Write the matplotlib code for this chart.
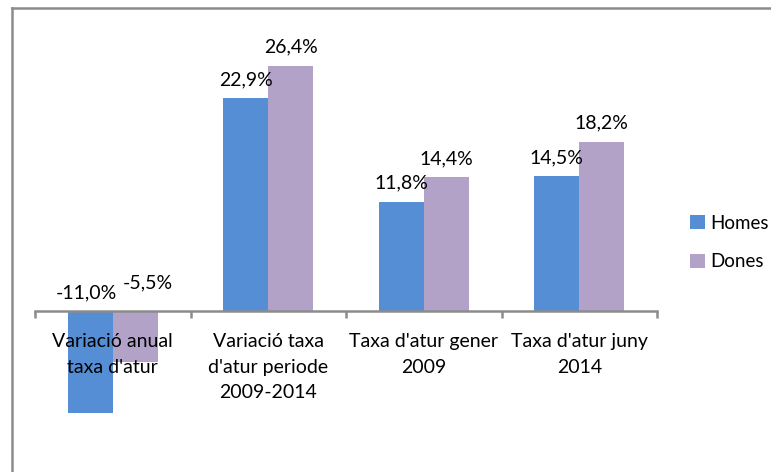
#!/usr/bin/env python3
"""Taxa d'atur per sexe: homes vs dones."""

import matplotlib
matplotlib.use("Agg")
import matplotlib.pyplot as plt
from matplotlib.lines import Line2D
import numpy as np

categories = [
    "Variació anual\ntaxa d'atur",
    "Variació taxa\nd'atur periode\n2009-2014",
    "Taxa d'atur gener\n2009",
    "Taxa d'atur juny\n2014",
]
homes = [-11.0, 22.9, 11.8, 14.5]
dones = [-5.5, 26.4, 14.4, 18.2]
series_names = ["Homes", "Dones"]

BLUE = "#558ED5"
PURPLE = "#B3A2C7"
GRAY = "#8C8C8C"
FONT = "Lato"
FS = 14

plt.rcParams["font.family"] = [FONT, "DejaVu Sans"]

fig = plt.figure(figsize=(7.71, 4.72), dpi=100)
ax = fig.add_axes([35 / 771, 0.0462, 622 / 771, 0.8847])

x = np.arange(len(categories))
width = 0.29
ax.bar(x - width / 2, homes, width, color=BLUE, label=series_names[0])
ax.bar(x + width / 2, dones, width, color=PURPLE, label=series_names[1])

ax.set_xlim(-0.5, len(categories) - 0.5)
ax.set_ylim(-15, 30)


def fmt(v):
    return f"{v:.1f}%".replace(".", ",")


for xs, vals, neg_off in [(x - width / 2, homes, (-4, 18)), (x + width / 2, dones, (13, 28))]:
    for xi, v in zip(xs, vals):
        if v >= 0:
            ax.annotate(fmt(v), (xi, v), xytext=(0, 19), textcoords="offset pixels",
                        ha="center", va="center", fontsize=FS, color="black")
        else:
            ax.annotate(fmt(v), (xi, 0), xytext=neg_off, textcoords="offset pixels",
                        ha="center", va="center", fontsize=FS, color="black")

for side in ["top", "right", "left"]:
    ax.spines[side].set_visible(False)
ax.spines["bottom"].set_position(("data", 0))
ax.spines["bottom"].set_color(GRAY)
ax.spines["bottom"].set_linewidth(1.8)
ax.set_yticks([])

ax.set_xticks(x)
ax.set_xticklabels(categories, fontsize=FS, linespacing=1.6)
ax.tick_params(axis="x", which="major", length=0, pad=16)
ax.set_xticks(np.arange(len(categories) + 1) - 0.5, minor=True)
ax.tick_params(axis="x", which="minor", length=5, width=1.8, color=GRAY)

ax.legend(loc="center left", frameon=False, fontsize=13.5,
          handlelength=0.78, handleheight=0.78, handletextpad=0.3,
          labelspacing=1.15, borderaxespad=0, borderpad=0,
          bbox_to_anchor=(690 / 771, 1 - 242.5 / 472),
          bbox_transform=fig.transFigure)

# chart frame (only top and left edges visible)
fig.add_artist(Line2D([12 / 771, 1], [1 - 8 / 472] * 2, color=GRAY, linewidth=1.8,
                      transform=fig.transFigure))
fig.add_artist(Line2D([12 / 771] * 2, [0, 1 - 8 / 472], color=GRAY, linewidth=1.8,
                      transform=fig.transFigure))

fig.savefig("out.png", dpi=100)
